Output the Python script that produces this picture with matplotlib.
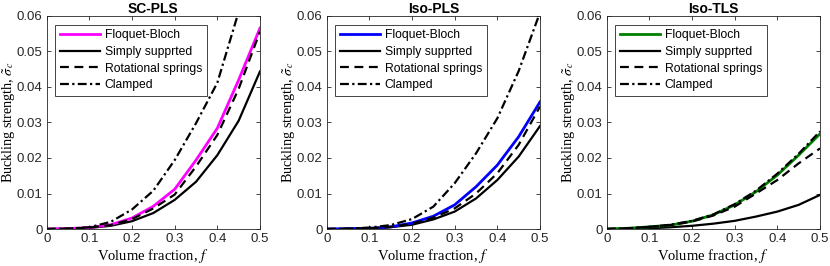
import matplotlib
matplotlib.use("Agg")
import matplotlib.pyplot as plt

plt.rcParams["mathtext.fontset"] = "stix"

f = [0.0, 0.05, 0.10, 0.15, 0.20, 0.25, 0.30, 0.35, 0.40, 0.45, 0.50]

titles = ["SC-PLS", "Iso-PLS", "Iso-TLS"]
fb_colors = ["#ff00ff", "#0000ff", "#008000"]

# SC-PLS
sc_fb = [0.0, 0.0001, 0.0004, 0.0012, 0.0031, 0.0064, 0.0112, 0.0194, 0.0284, 0.0420, 0.0566]
sc_ss = [0.0, 0.0001, 0.0003, 0.0009, 0.0022, 0.0045, 0.0082, 0.0133, 0.0208, 0.0305, 0.0444]
sc_rs = [0.0, 0.0001, 0.0004, 0.0011, 0.0028, 0.0058, 0.0097, 0.0176, 0.0265, 0.0395, 0.0556]
sc_cl = [0.0, 0.0001, 0.0005, 0.0020, 0.0055, 0.0108, 0.0194, 0.0298, 0.0412, 0.0612, 0.0820]

# Iso-PLS
ip_fb = [0.0, 0.0001, 0.0002, 0.0006, 0.0017, 0.0036, 0.0068, 0.0119, 0.0180, 0.0260, 0.0358]
ip_ss = [0.0, 0.0000, 0.0001, 0.0005, 0.0012, 0.0027, 0.0049, 0.0086, 0.0138, 0.0204, 0.0290]
ip_rs = [0.0, 0.0001, 0.0002, 0.0006, 0.0015, 0.0032, 0.0058, 0.0100, 0.0157, 0.0237, 0.0345]
ip_cl = [0.0, 0.0001, 0.0004, 0.0011, 0.0028, 0.0063, 0.0129, 0.0213, 0.0312, 0.0445, 0.0610]

# Iso-TLS
it_fb = [0.0, 0.0002, 0.0006, 0.0011, 0.0022, 0.0040, 0.0068, 0.0105, 0.0152, 0.0208, 0.0268]
it_ss = [0.0, 0.0001, 0.0002, 0.0005, 0.0009, 0.0015, 0.0023, 0.0035, 0.0049, 0.0068, 0.0096]
it_rs = [0.0, 0.0002, 0.0006, 0.0011, 0.0021, 0.0038, 0.0063, 0.0100, 0.0138, 0.0185, 0.0227]
it_cl = [0.0, 0.0002, 0.0006, 0.0012, 0.0023, 0.0041, 0.0070, 0.0108, 0.0156, 0.0212, 0.0275]

data = [
    (sc_fb, sc_ss, sc_rs, sc_cl),
    (ip_fb, ip_ss, ip_rs, ip_cl),
    (it_fb, it_ss, it_rs, it_cl),
]

legend_labels = ["Floquet-Bloch", "Simply supprted", "Rotational springs", "Clamped"]
xticks = [0, 0.1, 0.2, 0.3, 0.4, 0.5]
xticklabels = ["0", "0.1", "0.2", "0.3", "0.4", "0.5"]
yticks = [0, 0.01, 0.02, 0.03, 0.04, 0.05, 0.06]
yticklabels = ["0", "0.01", "0.02", "0.03", "0.04", "0.05", "0.06"]

fig = plt.figure(figsize=(8.3, 2.66), dpi=100)
lefts = [46.7 / 830, 326.7 / 830, 606.7 / 830]
axc = "#262626"
for i, left in enumerate(lefts):
    ax = fig.add_axes([left, 37 / 266, 213.3 / 830, 213 / 266])
    fb, ss, rs, cl = data[i]
    lw = 1.6
    ax.plot(f, fb, color=fb_colors[i], lw=2.0, label=legend_labels[0], zorder=3)
    ax.plot(f, ss, color="black", lw=lw, label=legend_labels[1], zorder=2)
    ax.plot(f, rs, color="black", lw=lw, ls=(0, (4, 2.5)), label=legend_labels[2], zorder=4)
    ax.plot(f, cl, color="black", lw=lw, ls=(0, (4, 1.5, 1, 1.5)), label=legend_labels[3], zorder=4)
    ax.set_xlim(0, 0.5)
    ax.set_ylim(0, 0.06)
    ax.set_xticks(xticks)
    ax.set_xticklabels(xticklabels, family="Liberation Sans", fontsize=9.5, color=axc)
    ax.set_yticks(yticks)
    ax.set_yticklabels(yticklabels, family="Liberation Sans", fontsize=9.5, color=axc)
    ax.tick_params(direction="in", top=True, right=True, length=3, width=0.6, color=axc, pad=3)
    for s in ax.spines.values():
        s.set_linewidth(0.6)
        s.set_color(axc)
    ax.set_xlabel(r"Volume fraction, $f$", family="Liberation Serif", fontsize=10.5, labelpad=1)
    ax.set_ylabel(r"Buckling strength, $\tilde{\sigma}_c$", family="Liberation Serif", fontsize=10.2)
    ax.yaxis.set_label_coords(-0.14, 0.5)
    ax.set_title(titles[i], family="Liberation Sans", fontweight="bold", fontsize=10, pad=2)
    leg = ax.legend(loc="upper left", bbox_to_anchor=(0.04, 0.96), prop={"family": "Liberation Sans", "size": 8.7},
                    handlelength=3.3, handletextpad=0.4, labelspacing=0.38, borderpad=0.4,
                    fancybox=False, framealpha=1, edgecolor=axc, borderaxespad=0)
    leg.get_frame().set_linewidth(0.6)

fig.savefig("out.png", dpi=100)
